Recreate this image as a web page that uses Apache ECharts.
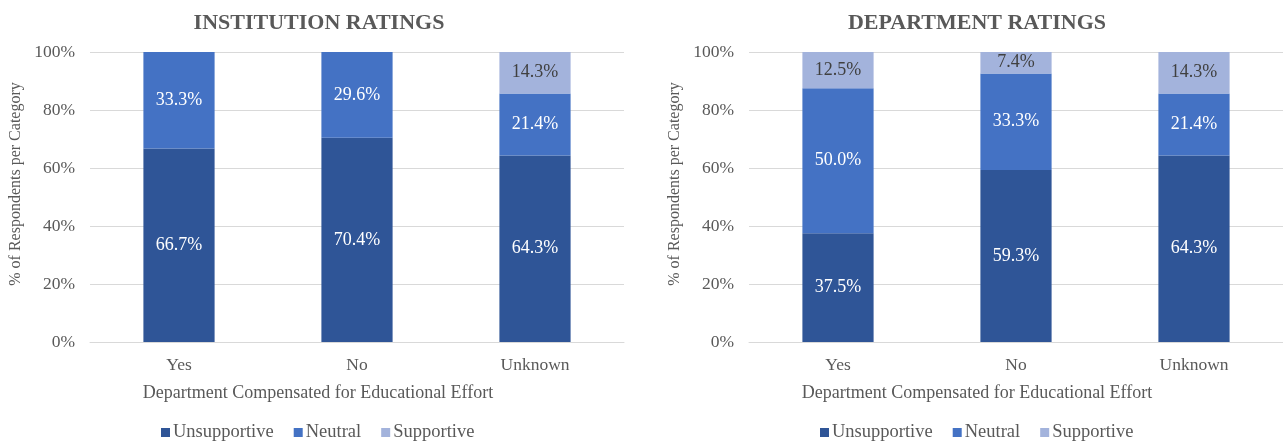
<!DOCTYPE html>
<html>
<head>
<meta charset="utf-8">
<script src="https://cdn.jsdelivr.net/npm/echarts@6/dist/echarts.min.js"></script>
<style>
  html, body { margin: 0; padding: 0; background: #fff; }
  #chart { width: 1283px; height: 441px; }
</style>
</head>
<body>
<div id="chart"></div>
<script>
// categories on the x axis
const categories = ['Yes', 'No', 'Unknown'];
const seriesNames = ['Unsupportive', 'Neutral', 'Supportive'];

// institution ratings (%)
const instUnsupportive = [66.7, 70.4, 64.3];
const instNeutral = [33.3, 29.6, 21.4];
const instSupportive = [0, 0, 14.3];

// department ratings (%)
const deptUnsupportive = [37.5, 59.3, 64.3];
const deptNeutral = [50.0, 33.3, 21.4];
const deptSupportive = [12.5, 7.4, 14.3];

const colors = ['#2F5597', '#4472C4', '#A3B3DC'];
const labelColors = ['#ffffff', '#ffffff', '#404040'];
const font = '"Liberation Serif", "Times New Roman", serif';
const gray = '#595959';

const chart = echarts.init(document.getElementById('chart'));

function makeSeries(values, idx, gridIdx) {
  return {
    name: seriesNames[idx],
    type: 'bar',
    stack: 'g' + gridIdx,
    xAxisIndex: gridIdx,
    yAxisIndex: gridIdx,
    barWidth: '40%',
    data: values,
    itemStyle: { color: colors[idx] },
    label: {
      show: true,
      position: 'inside',
      color: labelColors[idx],
      fontFamily: font,
      fontSize: 18,
      formatter: (p) => (p.value > 0 ? p.value.toFixed(1) + '%' : ''),
    },
  };
}

function makeX(gridIdx) {
  return {
    type: 'category',
    gridIndex: gridIdx,
    data: categories,
    axisTick: { show: false },
    axisLine: { lineStyle: { color: '#D9D9D9' } },
    axisLabel: { color: gray, fontFamily: font, fontSize: 17.5, margin: 14 },
    name: 'Department Compensated for Educational Effort',
    nameLocation: 'middle',
    nameGap: 42,
    nameTextStyle: { color: gray, fontFamily: font, fontSize: 18, padding: [0, 78, 0, 0] },
  };
}

function makeY(gridIdx) {
  return {
    type: 'value',
    gridIndex: gridIdx,
    min: 0,
    max: 100,
    interval: 20,
    axisLabel: { color: gray, fontFamily: font, fontSize: 17.5, formatter: '{value}%', margin: 15 },
    splitLine: { lineStyle: { color: '#D9D9D9' } },
    name: '% of Respondents per Category',
    nameLocation: 'middle',
    nameGap: 66,
    nameRotate: 90,
    nameTextStyle: { color: gray, fontFamily: font, fontSize: 16, padding: [0, 0, 0, 26] },
  };
}

function makeLegend(x) {
  return {
    data: seriesNames,
    left: x,
    top: 423,
    padding: 0,
    icon: 'rect',
    itemWidth: 9,
    itemHeight: 9,
    itemGap: 20,
    textStyle: { color: gray, fontFamily: font, fontSize: 18.5, padding: [0, 0, 0, -2] },
    selectedMode: false,
  };
}

const option = {
  animation: false,
  title: [
    {
      text: 'INSTITUTION RATINGS',
      left: 314, top: 7, textAlign: 'center',
      textStyle: { color: gray, fontFamily: font, fontSize: 22, fontWeight: 'bold' },
    },
    {
      text: 'DEPARTMENT RATINGS',
      left: 972, top: 7, textAlign: 'center',
      textStyle: { color: gray, fontFamily: font, fontSize: 22, fontWeight: 'bold' },
    },
  ],
  legend: [makeLegend(161), makeLegend(820)],
  grid: [
    { left: 90, top: 52, width: 534, height: 290 },
    { left: 749, top: 52, width: 534, height: 290 },
  ],
  xAxis: [makeX(0), makeX(1)],
  yAxis: [makeY(0), makeY(1)],
  series: [
    makeSeries(instUnsupportive, 0, 0),
    makeSeries(instNeutral, 1, 0),
    makeSeries(instSupportive, 2, 0),
    makeSeries(deptUnsupportive, 0, 1),
    makeSeries(deptNeutral, 1, 1),
    makeSeries(deptSupportive, 2, 1),
  ],
};

chart.setOption(option);
window.addEventListener('resize', () => chart.resize());
</script>
</body>
</html>
